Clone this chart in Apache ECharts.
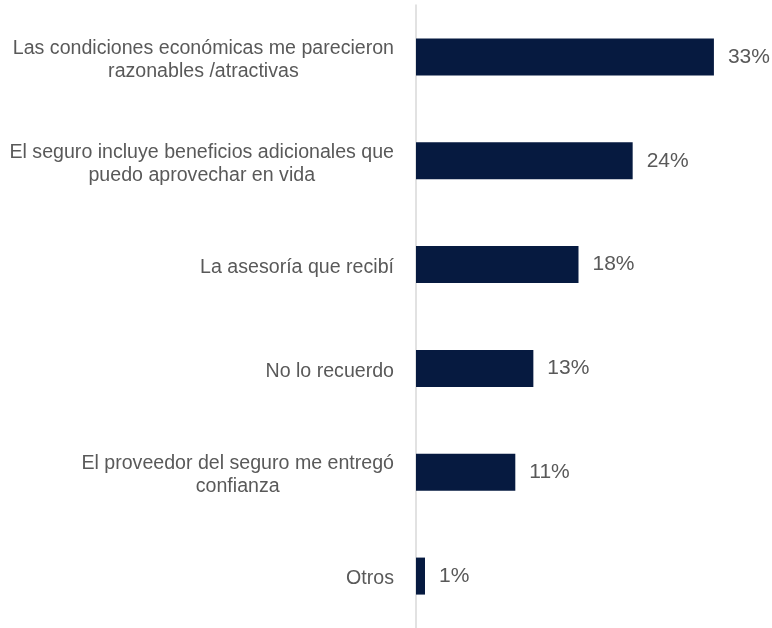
<!DOCTYPE html>
<html>
<head>
<meta charset="utf-8">
<script src="https://cdn.jsdelivr.net/npm/echarts@6/dist/echarts.min.js"></script>
<style>
  html, body { margin: 0; padding: 0; background: #ffffff; }
  #chart { width: 772px; height: 628px; }
</style>
</head>
<body>
<div id="chart"></div>
<script>
// Reasons for choosing the insurance (share of respondents, %)
const categories = [
  'Las condiciones económicas me parecieron\nrazonables /atractivas',
  'El seguro incluye beneficios adicionales que\npuedo aprovechar en vida',
  'La asesoría que recibí',
  'No lo recuerdo',
  'El proveedor del seguro me entregó\nconfianza',
  'Otros'
];
const values = [33, 24, 18, 13, 11, 1];

const chart = echarts.init(document.getElementById('chart'));
chart.setOption({
  animation: false,
  grid: { left: 416, right: 31, top: 5, bottom: -5, containLabel: false },
  xAxis: {
    type: 'value',
    min: 0,
    max: 36,
    show: false
  },
  yAxis: {
    type: 'category',
    inverse: true,
    data: categories,
    axisLine: { show: true, lineStyle: { color: '#d9d9d9', width: 1.5 } },
    axisTick: { show: false },
    axisLabel: {
      margin: 22,
      align: 'right',
      padding: [6, 0, 0, 0],
      // each line is centred within the label block
      formatter: function (v) {
        return v.split('\n').map(function (s) { return '{c|' + s + '}'; }).join('\n');
      },
      rich: {
        c: {
          align: 'center',
          color: '#595959',
          fontFamily: 'Liberation Sans, Arial, sans-serif',
          fontSize: 19.6,
          lineHeight: 23
        }
      }
    },
    splitLine: { show: false }
  },
  series: [{
    type: 'bar',
    data: values,
    barWidth: 37,
    itemStyle: { color: '#061a40' },
    label: {
      show: true,
      position: 'right',
      distance: 14,
      formatter: '{c}%',
      color: '#595959',
      fontFamily: 'Liberation Sans, Arial, sans-serif',
      fontSize: 21,
      padding: [4, 0, 0, 0]
    }
  }]
});
</script>
</body>
</html>
